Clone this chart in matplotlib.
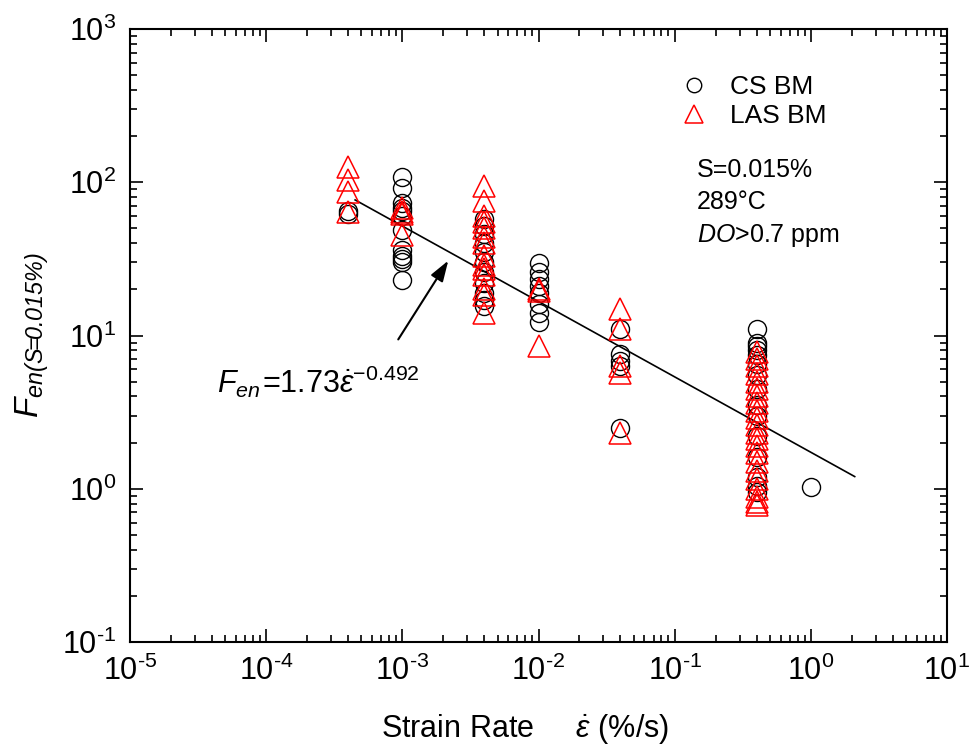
import numpy as np
import matplotlib
matplotlib.use("Agg")
import matplotlib.pyplot as plt
from matplotlib.ticker import FuncFormatter, LogLocator, NullFormatter

plt.rcParams['font.family'] = ['Liberation Sans', 'DejaVu Sans']
plt.rcParams['mathtext.fontset'] = 'custom'
plt.rcParams['mathtext.rm'] = 'Liberation Sans'
plt.rcParams['mathtext.it'] = 'Liberation Sans:italic'
plt.rcParams['mathtext.sf'] = 'Liberation Sans:italic'
plt.rcParams['mathtext.bf'] = 'Liberation Sans:bold'

# ---------------- data ----------------
cs_rate = ([4e-4] * 2 + [1e-3] * 12 + [4e-3] * 11 + [1e-2] * 8 + [4e-2] * 5
           + [0.4] * 15 + [1.0])
cs_fen = [62, 65,
          108, 92, 73, 68, 65, 60, 49, 36, 33, 31.5, 30, 23,
          58, 52, 46, 40, 35, 30, 26, 22, 19, 17, 15.5,
          29.5, 26, 23.5, 21, 19, 16, 14, 12.3,
          11, 7.6, 6.8, 6.3, 2.5,
          11, 9, 8.5, 8, 7.5, 6.5, 5.5, 4.5, 3.5, 3, 2.2, 1.6, 1.2, 1.05, 0.95,
          1.03]

las_rate = ([4e-4] * 4 + [1e-3] * 4 + [4e-3] * 14 + [1e-2] * 3 + [4e-2] * 5
            + [0.4] * 22)
las_fen = [126, 103, 86, 64,
           68, 64, 62, 45,
           95, 76, 60, 55, 50, 44, 40, 33, 29, 27, 25, 20, 18.5, 14,
           20, 19.5, 8.6,
           15, 11, 6.3, 5.7, 2.3,
           7.8, 7, 6.3, 5.6, 5, 4.5, 4, 3.6, 3.2, 2.9, 2.6, 2.3, 2.1, 1.9, 1.7,
           1.5, 1.3, 1.15, 1.0, 0.88, 0.82, 0.78]

fit_coef = 1.73
fit_exp = -0.492
fit_range = [4.5e-4, 2.1]

x_ticks = [1e-5, 1e-4, 1e-3, 1e-2, 1e-1, 1e0, 1e1]
y_ticks = [1e-1, 1e0, 1e1, 1e2, 1e3]

# ---------------- figure ----------------
fig = plt.figure(figsize=(9.69, 7.47), dpi=100)
ax = fig.add_axes([130 / 969, 1 - 642 / 747, (947 - 130) / 969, (642 - 29) / 747])
ax.set_xscale('log')
ax.set_yscale('log')
ax.set_xlim(1e-5, 10)
ax.set_ylim(0.1, 1000)

ax.plot(cs_rate, cs_fen, linestyle='none', marker='o', ms=13, mfc='none',
        mec='black', mew=1.0, label='CS BM', zorder=3)
ax.plot(las_rate, las_fen, linestyle='none', marker='^', ms=15.5, mfc='none',
        mec='red', mew=1.1, label='LAS BM', zorder=4)

xf = np.logspace(np.log10(fit_range[0]), np.log10(fit_range[1]), 50)
ax.plot(xf, fit_coef * xf ** fit_exp, color='black', lw=1.2, zorder=2)

ax.annotate('', xy=(2.23e-3, 31.9), xytext=(9.1e-4, 9.1),
            arrowprops=dict(arrowstyle='-|>,head_length=0.9,head_width=0.3',
                            color='black', lw=1.5, mutation_scale=14))

# equation label (pixel positions converted by transform=None)
ax.text(217, 747 - 393, r'$F_{\mathit{en}}$', transform=None, fontsize=22,
        ha='left', va='baseline')
ax.text(262, 747 - 393, r'=1.73$\dot{\mathit{\varepsilon}}^{-0.492}$',
        transform=None, fontsize=22, ha='left', va='baseline')

# ticks
for axis in (ax.xaxis, ax.yaxis):
    axis.set_major_locator(LogLocator(base=10, numticks=20))
    axis.set_minor_locator(LogLocator(base=10, subs=np.arange(2, 10), numticks=20))
    axis.set_minor_formatter(NullFormatter())


def _fmt(v, p):
    e = int(round(np.log10(v)))
    if e < 0:
        return r'$\mathregular{10^{\text{-}%d}}$' % (-e)
    return r'$\mathregular{10^{%d}}$' % e


fmt = FuncFormatter(_fmt)
ax.xaxis.set_major_formatter(fmt)
ax.yaxis.set_major_formatter(fmt)
ax.set_xticks(x_ticks)
ax.set_yticks(y_ticks)
ax.tick_params(which='both', direction='in', top=True, right=True,
               labelsize=22, width=1.2)
ax.tick_params(which='major', length=9.5, pad=10)
ax.tick_params(which='minor', length=5)
for s in ax.spines.values():
    s.set_linewidth(1.5)

ax.set_xlabel(r'Strain Rate     $\dot{\mathit{\varepsilon}}$ (%/s)', fontsize=22)
ax.xaxis.set_label_coords((525 - 130) / 817, -0.115)
ax.set_ylabel(r'$F_{\mathsf{en(S\!\!=\!\!0.015\%)}}$', fontsize=24, labelpad=8)

leg = ax.legend(loc='upper left', bbox_to_anchor=(665 / 969, 1 - 62 / 747),
                bbox_transform=fig.transFigure, frameon=False, fontsize=19,
                handlelength=1.2, handletextpad=0.75, labelspacing=0.2,
                markerscale=0.8, borderpad=0)

ax.text(697, 747 - 177, 'S=0.015%', transform=None, fontsize=18)
ax.text(697, 747 - 209, '289\u00b0C', transform=None, fontsize=18)
ax.text(697, 747 - 242, r'$\mathit{DO}$>0.7 ppm', transform=None, fontsize=18)

fig.savefig('out.png', dpi=100)
